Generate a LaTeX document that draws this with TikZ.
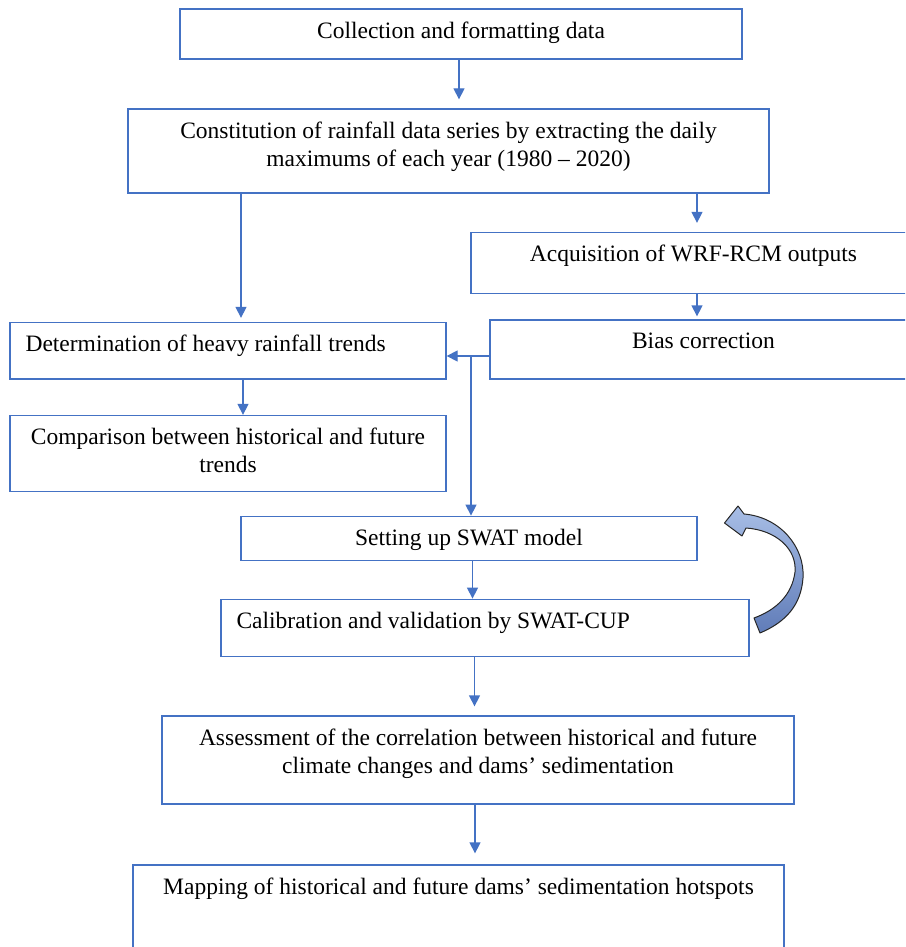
\documentclass[tikz,border=0pt]{standalone}
\usepackage{fontspec}
\setmainfont{Liberation Serif}
\usetikzlibrary{positioning,arrows.meta}
\definecolor{boxblue}{RGB}{68,114,196}
\definecolor{ribbonlight}{RGB}{168,190,230}
\definecolor{ribbondark}{RGB}{96,124,184}
\tikzset{
  box/.style={draw=boxblue,line width=1.3pt,inner sep=0pt},
  txt/.style={font=\fontsize{23.5}{28.3}\selectfont,align=center,inner sep=0pt},
  arr/.style={draw=boxblue,line width=1.3pt,-{Triangle[length=11pt,width=11pt]}}
}
\begin{document}
\begin{tikzpicture}[x=1pt,y=-1pt]
  \useasboundingbox (0,0) rectangle (905,947);
  \clip (0,0) rectangle (905,947);

  % データ収集 (Collection)
  \node[box,minimum width=562pt,minimum height=50pt] (coll) at (461,34) {};
  \node[txt,below=13pt of coll.north] (coll-t) {Collection and formatting data};

  % 降雨データ系列 (Constitution)
  \node[box,minimum width=641pt,minimum height=84pt] (const) at (448.5,151) {};
  \node[txt,below=13pt of const.north] (const-t) {Constitution of rainfall data series by extracting the daily\\maximums of each year (1980 -- 2020)};

  % WRF-RCM 出力 (WRF)
  \node[box,minimum width=445pt,minimum height=61pt] (wrf) at (693.5,263) {};
  \node[txt,below=13pt of wrf.north] (wrf-t) {Acquisition of WRF-RCM outputs};

  % バイアス補正 (Bias)
  \node[box,minimum width=427pt,minimum height=59pt] (bias) at (703.5,349.5) {};
  \node[txt,below=13pt of bias.north] (bias-t) {Bias correction};

  % 豪雨トレンド (Heavy)
  \node[box,minimum width=436pt,minimum height=56.5pt] (heavy) at (228,350.75) {};
  \node[txt,below right=13pt and 16pt of heavy.north west] (heavy-t) {Determination of heavy rainfall trends};

  % 比較 (Comparison)
  \node[box,minimum width=436pt,minimum height=76pt] (comp) at (228,453.5) {};
  \node[txt,below=13pt of comp.north] (comp-t) {Comparison between historical and future\\trends};

  % SWAT モデル (SWAT)
  \node[box,minimum width=456pt,minimum height=44.5pt] (swat) at (469,538.5) {};
  \node[txt,below=13pt of swat.north] (swat-t) {Setting up SWAT model};

  % 校正と検証 (Calibration)
  \node[box,minimum width=528pt,minimum height=57.5pt] (calib) at (485,628) {};
  \node[txt,below right=13pt and 16pt of calib.north west] (calib-t) {Calibration and validation by SWAT-CUP};

  % 相関の評価 (Assessment)
  \node[box,minimum width=632pt,minimum height=88pt] (assess) at (478,760) {};
  \node[txt,below=13pt of assess.north] (assess-t) {Assessment of the correlation between historical and future\\climate changes and dams' sedimentation};

  % ホットスポット図 (Mapping)
  \node[box,minimum width=651pt,minimum height=110pt] (map) at (458.5,920) {};
  \node[txt,below=13pt of map.north] (map-t) {Mapping of historical and future dams' sedimentation hotspots};

  % 矢印
  \draw[arr,shorten >=9pt] ([xshift=-2pt]coll.south) -- ([xshift=-2pt]coll.south |- const.north);
  \draw[arr,shorten >=9pt] ([xshift=3.5pt]wrf.north |- const.south) -- ([xshift=3.5pt]wrf.north);
  \draw[arr,shorten >=4pt] ([xshift=13pt]heavy.north |- const.south) -- ([xshift=13pt]heavy.north);
  \draw[arr,shorten >=3pt] ([xshift=3.5pt]wrf.south) -- ([xshift=3.5pt]wrf.south |- bias.north);
  \coordinate (jn) at (471,356);
  \draw[arr] (bias.west |- jn) -- (heavy.east |- jn);
  \draw[arr] (jn) -- (jn |- swat.north);
  \draw[arr] ([xshift=15pt]heavy.south) -- ([xshift=15pt]heavy.south |- comp.north);
  \draw[arr] ([xshift=3.5pt]swat.south) -- ([xshift=3.5pt]swat.south |- calib.north);
  \draw[arr,shorten >=9pt] ([xshift=-3.5pt]assess.north |- calib.south) -- ([xshift=-3.5pt]assess.north);
  \draw[arr,shorten >=11pt] ([xshift=-3pt]assess.south) -- ([xshift=-3pt]assess.south |- map.north);

  % 曲がった矢印 (反復)
  \draw[draw=black!85,line width=1pt,line join=round,top color=ribbonlight,bottom color=ribbondark]
    (724.5,523) -- (738,506) -- (744,514)
    .. controls (780,517) and (805,547) .. (803,578)
    .. controls (801,605) and (786,622) .. (760,633) -- (754,618)
    .. controls (776,610) and (792,595) .. (795,572)
    .. controls (797,549) and (776,530) .. (746,528) -- (742,536) -- cycle;
\end{tikzpicture}
\end{document}
